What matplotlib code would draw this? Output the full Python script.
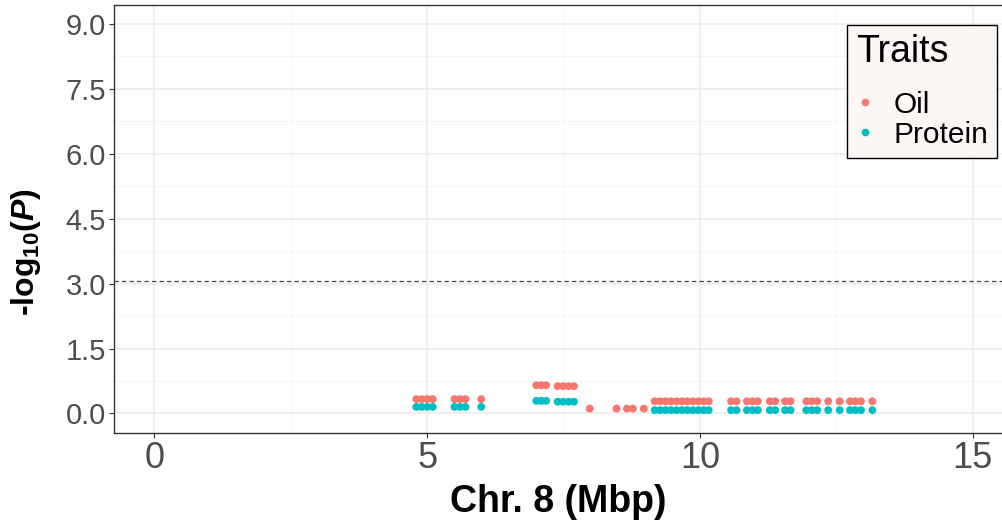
import matplotlib
matplotlib.use("Agg")
import matplotlib.pyplot as plt
from matplotlib.ticker import MultipleLocator, FormatStrFormatter
from matplotlib.lines import Line2D

plt.rcParams['font.family'] = ['Liberation Sans', 'DejaVu Sans']
plt.rcParams['mathtext.fontset'] = 'custom'
plt.rcParams['mathtext.rm'] = 'Liberation Sans:bold'
plt.rcParams['mathtext.bf'] = 'Liberation Sans:bold'
plt.rcParams['mathtext.it'] = 'Liberation Sans:italic:bold'

# ---- data (Mbp, -log10 P) ----
oil_pos = [4.80, 4.90, 5.00, 5.10, 5.50, 5.60, 5.70, 5.99,
           7.00, 7.09, 7.18, 7.39, 7.49, 7.59, 7.69,
           7.98, 8.47, 8.66, 8.77, 8.97,
           9.17, 9.27, 9.37, 9.47, 9.57, 9.67, 9.77, 9.87, 9.97, 10.07, 10.16,
           10.57, 10.67, 10.86, 10.96, 11.06, 11.28, 11.38, 11.56, 11.66,
           11.95, 12.05, 12.15, 12.35, 12.56, 12.75, 12.85, 12.95, 13.16]
oil_logp = [0.33, 0.33, 0.33, 0.33, 0.33, 0.33, 0.33, 0.33,
            0.65, 0.65, 0.65, 0.63, 0.63, 0.63, 0.63,
            0.11, 0.11, 0.11, 0.11, 0.11,
            0.28, 0.28, 0.28, 0.28, 0.28, 0.28, 0.28, 0.28, 0.28, 0.28, 0.28,
            0.28, 0.28, 0.28, 0.28, 0.28, 0.28, 0.28, 0.28, 0.28,
            0.28, 0.28, 0.28, 0.28, 0.28, 0.28, 0.28, 0.28, 0.28]

protein_pos = [4.80, 4.90, 5.00, 5.10, 5.50, 5.60, 5.70, 5.99,
               7.00, 7.09, 7.18, 7.39, 7.49, 7.59, 7.69,
               9.17, 9.27, 9.37, 9.47, 9.57, 9.67, 9.77, 9.87, 9.97, 10.07, 10.16,
               10.57, 10.67, 10.86, 10.96, 11.06, 11.28, 11.38, 11.56, 11.66,
               11.95, 12.05, 12.15, 12.35, 12.56, 12.75, 12.85, 12.95, 13.16]
protein_logp = [0.15, 0.15, 0.15, 0.15, 0.15, 0.15, 0.15, 0.15,
                0.29, 0.29, 0.29, 0.27, 0.27, 0.27, 0.27,
                0.075, 0.075, 0.075, 0.075, 0.075, 0.075, 0.075, 0.075, 0.075, 0.075, 0.075,
                0.075, 0.075, 0.075, 0.075, 0.075, 0.075, 0.075, 0.075, 0.075,
                0.075, 0.075, 0.075, 0.075, 0.075, 0.075, 0.075, 0.075, 0.075]

threshold = 3.05
trait_names = ["Oil", "Protein"]
trait_colors = ["#F8766D", "#00BFC4"]
x_ticks = [0, 5, 10, 15]
y_ticks = [0.0, 1.5, 3.0, 4.5, 6.0, 7.5, 9.0]

W, H = 1003, 522
fig = plt.figure(figsize=(W / 100, H / 100), dpi=100)
ax = fig.add_axes([114.4 / W, (H - 433.3) / H, (W - 114.4) / W, (433.3 - 5) / H])

ax.set_xlim(-0.735, 15.555)
ax.set_ylim(-0.46, 9.44)

ax.xaxis.set_minor_locator(MultipleLocator(2.5))
ax.yaxis.set_minor_locator(MultipleLocator(0.75))
ax.set_xticks(x_ticks)
ax.set_yticks(y_ticks)
ax.yaxis.set_major_formatter(FormatStrFormatter('%.1f'))

ax.grid(which='major', color='#EBEBEB', linewidth=1.1, zorder=0)
ax.grid(which='minor', color='#F2F2F2', linewidth=0.6, zorder=0)
ax.set_axisbelow(True)

for s in ['left', 'top', 'bottom']:
    ax.spines[s].set_color('#333333')
    ax.spines[s].set_linewidth(1.0)
ax.spines['right'].set_visible(False)

ax.tick_params(which='major', length=3.5, width=0.8, color='#333333',
               labelcolor='#4D4D4D')
ax.tick_params(which='minor', length=0)
ax.tick_params(axis='y', labelsize=21, pad=2.5)
ax.tick_params(axis='x', labelsize=26, pad=2)

ax.axhline(threshold, color='#444444', linewidth=0.9, linestyle=(0, (3.5, 2.5)), zorder=1)

ax.scatter(oil_pos, oil_logp, s=32, color=trait_colors[0], edgecolors='none', zorder=3)
ax.scatter(protein_pos, protein_logp, s=32, color=trait_colors[1], edgecolors='none', zorder=3)

ax.set_xlabel('Chr. 8 (Mbp)', fontsize=27, fontweight='bold', labelpad=6)
fig.text(26 / W, (H - 252) / H, r'-log$_{10}$($\mathit{P}$)', rotation=90,
         fontsize=23, fontweight='bold', ha='center', va='center')

handles = [Line2D([], [], marker='o', linestyle='', markersize=5.5,
                  markerfacecolor=c, markeredgecolor='none') for c in trait_colors]
leg = ax.legend(handles, trait_names, title='Traits', loc='upper right',
                bbox_to_anchor=(997.5 / W, (H - 25) / H), bbox_transform=fig.transFigure,
                fontsize=21.5, title_fontsize=27, frameon=True, fancybox=False,
                facecolor='#FDF7F6', edgecolor='black', framealpha=1,
                handlelength=0.65, handletextpad=0.62, labelspacing=0.06,
                borderpad=0.3, borderaxespad=0)
leg.get_frame().set_linewidth(1.0)
leg._legend_box.align = 'left'
leg._legend_box.sep = 15

fig.savefig('out.png', dpi=100)
